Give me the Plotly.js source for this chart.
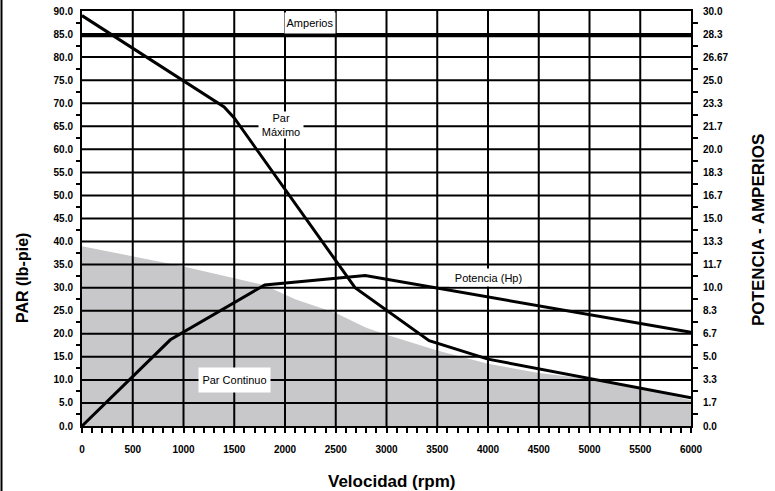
<!DOCTYPE html>
<html>
<head>
<meta charset="utf-8">
<script src="https://cdn.plot.ly/plotly-3.0.1.min.js"></script>
<style>html,body{margin:0;padding:0;background:#fff;}#chart{width:775px;height:491px;}</style>
</head>
<body>
<div id="chart"></div>
<script>
// ---- data ----
const xTickVals = [0, 500, 1000, 1500, 2000, 2500, 3000, 3500, 4000, 4500, 5000, 5500, 6000];
const xTickText = ["0", "500", "1000", "1500", "2000", "2500", "3000", "3500", "4000", "4500", "5000", "5500", "6000"];
const leftTickVals = [0, 5, 10, 15, 20, 25, 30, 35, 40, 45, 50, 55, 60, 65, 70, 75, 80, 85, 90];
const leftTickText = ["0.0", "5.0", "10.0", "15.0", "20.0", "25.0", "30.0", "35.0", "40.0", "45.0", "50.0", "55.0", "60.0", "65.0", "70.0", "75.0", "80.0", "85.0", "90.0"];
const rightTickText = ["0.0", "1.7", "3.3", "5.0", "6.7", "8.3", "10.0", "11.7", "13.3", "15.0", "16.7", "18.3", "20.0", "21.7", "23.3", "25.0", "26.67", "28.3", "30.0"];

// Par Maximo (lb-pie, left axis)
const parMaxRpm = [0, 1400, 1500, 2690, 3420, 4000, 6000];
const parMaxVal = [89, 69.2, 66.8, 30, 18.5, 14.5, 6.1];
// Par Continuo (lb-pie, left axis, shaded)
const parContRpm = [0, 1000, 1800, 2100, 2500, 2800, 3000, 3500, 4000, 4500, 5000, 5500, 6000];
const parContVal = [39, 34.6, 30.5, 27.5, 24.5, 21.3, 19.8, 16.4, 13.5, 11.5, 10.2, 8.2, 5.6];
// Potencia (Hp, right axis)
const potRpm = [0, 870, 1800, 2790, 6000];
const potHp = [0, 6.23, 10.2, 10.87, 6.77];
// Amperios (right axis)
const ampRpm = [0, 6000];
const ampVal = [28.2, 28.2];

// ---- layout geometry ----
const W = 775, H = 491;
const M = {l: 82, r: 84, t: 11, b: 65};
const PW = W - M.l - M.r, PH = H - M.t - M.b;
const px2x = p => (p - M.l) / PW;
const py2y = p => (H - M.b - p) / PH;
const FONT = "Liberation Sans, Arial, Helvetica, sans-serif";

const rightTickVals = rightTickText.map((t, i) => i * 30 / (rightTickText.length - 1));
const mid = a => a.slice(0, -1).map((v, i) => (v + a[i + 1]) / 2);
const xMinor = [];
for (let v = 100; v < 6000; v += 100) if (v % 500 !== 0) xMinor.push(v);

const traces = [
  {x: parContRpm, y: parContVal, type: 'scatter', mode: 'lines', fill: 'tozeroy',
   fillcolor: '#c8c8ca', line: {width: 0, color: '#c8c8ca'}, hoverinfo: 'skip', yaxis: 'y'},
  {x: parMaxRpm, y: parMaxVal, type: 'scatter', mode: 'lines',
   line: {width: 3, color: '#000'}, yaxis: 'y'},
  {x: potRpm, y: potHp, type: 'scatter', mode: 'lines',
   line: {width: 3, color: '#000'}, yaxis: 'y2'},
  {x: ampRpm, y: ampVal, type: 'scatter', mode: 'lines',
   line: {width: 2.5, color: '#000'}, yaxis: 'y2'}
];

const shapes = [];
xTickVals.slice(1, -1).forEach(v => shapes.push({type: 'line', xref: 'x', yref: 'paper', x0: v, x1: v, y0: 0, y1: 1,
  line: {color: '#000', width: 2}, layer: 'above'}));
leftTickVals.slice(1, -1).forEach(v => shapes.push({type: 'line', xref: 'paper', yref: 'y', x0: 0, x1: 1, y0: v, y1: v,
  line: {color: '#000', width: 2}, layer: 'above'}));
// left frame line of the figure
shapes.push({type: 'line', xref: 'paper', yref: 'paper', x0: px2x(1.5), x1: px2x(1.5), y0: py2y(0), y1: py2y(H),
  line: {color: '#000', width: 2}, layer: 'above'});

const lblFont = {family: FONT, size: 11, color: '#000'};
const annotations = [
  {x: 2250, y: 87.5, xref: 'x', yref: 'y', text: 'Amperios', showarrow: false, font: lblFont,
   bgcolor: '#fff', width: 50, height: 20, borderpad: 0},
  {x: 1960, y: 65.2, xref: 'x', yref: 'y', text: 'Par<br>Máximo', showarrow: false, font: lblFont,
   bgcolor: '#fff', width: 44, height: 26, borderpad: 0},
  {x: 4005, y: 32.3, xref: 'x', yref: 'y', text: 'Potencia (Hp)', showarrow: false, font: lblFont,
   bgcolor: '#fff', width: 77, height: 17, borderpad: 0},
  {x: 1507, y: 10.0, xref: 'x', yref: 'y', text: 'Par Continuo', showarrow: false, font: lblFont,
   bgcolor: '#fff', width: 71, height: 24, borderpad: 0},
  // axis titles
  {x: px2x(392), y: py2y(481), xref: 'paper', yref: 'paper', text: 'Velocidad (rpm)', showarrow: false,
   font: {family: FONT, size: 17, color: '#000', weight: 'bold'}, xanchor: 'center', yanchor: 'middle'},
  {x: px2x(22), y: py2y(278), xref: 'paper', yref: 'paper', text: 'PAR (lb-pie)', showarrow: false, textangle: -90,
   font: {family: FONT, size: 16, color: '#000', weight: 'bold'}, xanchor: 'center', yanchor: 'middle'},
  {x: px2x(758), y: py2y(230), xref: 'paper', yref: 'paper', text: 'POTENCIA - AMPERIOS', showarrow: false, textangle: -90,
   font: {family: FONT, size: 17, color: '#000', weight: 'bold'}, xanchor: 'center', yanchor: 'middle'}
];

const tickFont = {family: FONT, size: 10, color: '#000', weight: 'bold'};
const layout = {
  width: W, height: H, margin: M, showlegend: false,
  paper_bgcolor: '#fff', plot_bgcolor: '#fff',
  xaxis: {range: [0, 6000], tickmode: 'array', tickvals: xTickVals, ticktext: xTickText,
    ticks: 'outside', ticklen: 5, tickwidth: 2, tickcolor: '#000', ticklabelstandoff: 8,
    minor: {tickmode: 'array', tickvals: xMinor, ticks: 'outside', ticklen: 5, tickwidth: 2, tickcolor: '#000', showgrid: false},
    showline: true, linewidth: 2, linecolor: '#000', mirror: true, showgrid: false, zeroline: false,
    tickfont: tickFont, fixedrange: true},
  yaxis: {range: [0, 90], tickmode: 'array', tickvals: leftTickVals, ticktext: leftTickText,
    ticks: 'outside', ticklen: 0, tickcolor: '#000', ticklabelstandoff: 5,
    minor: {tickmode: 'array', tickvals: mid(leftTickVals), ticks: 'outside', ticklen: 4, tickwidth: 2, tickcolor: '#000', showgrid: false},
    showline: true, linewidth: 2, linecolor: '#000', mirror: true, showgrid: false, zeroline: false,
    tickfont: tickFont, fixedrange: true},
  yaxis2: {range: [0, 30], overlaying: 'y', side: 'right', tickmode: 'array', tickvals: rightTickVals, ticktext: rightTickText,
    ticks: 'outside', ticklen: 0, tickcolor: '#000', ticklabelstandoff: 9,
    minor: {tickmode: 'array', tickvals: mid(rightTickVals), ticks: 'outside', ticklen: 6, tickwidth: 2, tickcolor: '#000', showgrid: false},
    showline: false, showgrid: false, zeroline: false, tickfont: tickFont, fixedrange: true},
  shapes: shapes,
  annotations: annotations
};

Plotly.newPlot('chart', traces, layout, {displayModeBar: false, staticPlot: true});
</script>
</body>
</html>
